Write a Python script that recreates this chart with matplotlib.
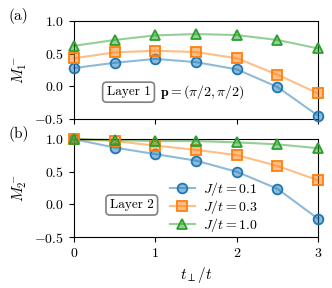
import numpy as np
import matplotlib
matplotlib.use('Agg')
import matplotlib.pyplot as plt

plt.rcParams['font.family'] = 'serif'
plt.rcParams['font.serif'] = ['cmr10', 'DejaVu Serif']
plt.rcParams['mathtext.fontset'] = 'cm'
plt.rcParams['axes.formatter.use_mathtext'] = True
plt.rcParams['font.size'] = 10

# data
t_perp = [0, 0.5, 1, 1.5, 2, 2.5, 3]
labels = ['$J/t = 0.1$', '$J/t = 0.3$', '$J/t = 1.0$']
layer1 = [
    [0.28, 0.36, 0.42, 0.37, 0.26, -0.01, -0.45],
    [0.43, 0.52, 0.545, 0.525, 0.43, 0.18, -0.11],
    [0.62, 0.71, 0.78, 0.80, 0.785, 0.71, 0.58],
]
layer2 = [
    [1.0, 0.87, 0.77, 0.67, 0.50, 0.24, -0.22],
    [1.0, 0.97, 0.90, 0.835, 0.755, 0.59, 0.37],
    [1.0, 0.985, 0.97, 0.97, 0.95, 0.92, 0.86],
]
colors = ['tab:blue', 'tab:orange', 'tab:green']
markers = ['o', 's', '^']

fig = plt.figure(figsize=(3.32, 2.88), dpi=100)
ax1 = fig.add_axes([0.223, 0.587, 0.735, 0.340])
ax2 = fig.add_axes([0.223, 0.177, 0.735, 0.340])

for ax, data in [(ax1, layer1), (ax2, layer2)]:
    for y, c, m, lab in zip(data, colors, markers, labels):
        ax.plot(t_perp, y, color=c, alpha=0.5, lw=1.5, zorder=2, clip_on=False)
        ax.plot(t_perp, y, ls='none', marker=m, ms=7, mfc=matplotlib.colors.to_rgba(c, 0.5),
                mec=c, mew=1.3, zorder=3, clip_on=False)
        # legend handle
        ax.plot([], [], color=matplotlib.colors.to_rgba(c, 0.5), lw=1.5, marker=m, ms=7,
                mfc=matplotlib.colors.to_rgba(c, 0.5), mec=c, mew=1.3, label=lab)
    ax.set_xlim(0, 3)
    ax.set_ylim(-0.5, 1.0)
    ax.set_yticks([-0.5, 0.0, 0.5, 1.0])
    ax.set_xticks([0, 1, 2, 3])

ax1.set_xticklabels([])
ax1.set_ylabel('$M_1^-$', fontsize=11)
ax2.set_ylabel('$M_2^-$', fontsize=11)
ax2.set_xlabel(r'$t_\perp/t$', fontsize=11)

box = dict(boxstyle='round,pad=0.3', fc='white', ec='gray', lw=1.2)
ax1.text(0.67, -0.09, 'Layer 1', ha='center', va='center', bbox=box, fontsize=9.5)
ax1.text(1.58, -0.09, r'$\mathbf{p} = (\pi/2, \pi/2)$', ha='center', va='center', fontsize=10)
ax2.text(0.71, -0.01, 'Layer 2', ha='center', va='center', bbox=box, fontsize=9.5)

ax2.legend(loc='lower left', bbox_to_anchor=(0.38, 0.0), frameon=False, fontsize=10,
           handlelength=1.8, labelspacing=0.0, borderpad=0.1, borderaxespad=0.1,
           handletextpad=0.6)

fig.text(0.025, 0.945, '(a)', fontsize=11, va='center')
fig.text(0.025, 0.535, '(b)', fontsize=11, va='center')

fig.savefig('out.png', dpi=100)
